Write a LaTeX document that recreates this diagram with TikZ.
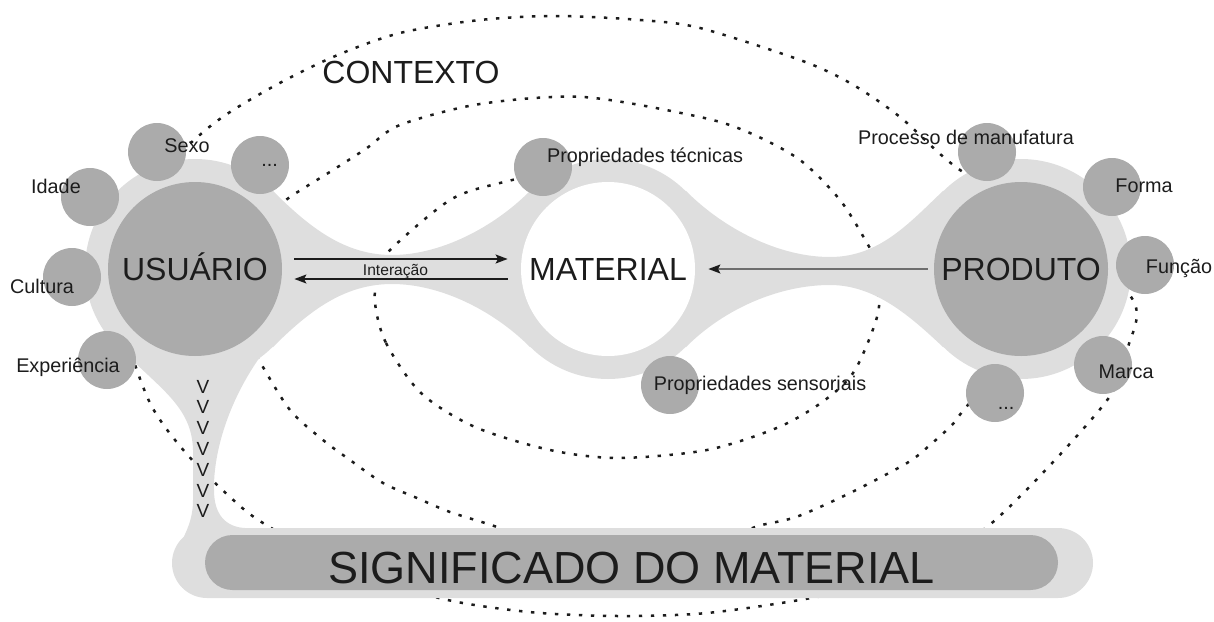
\documentclass[tikz,border=0pt]{standalone}
\usepackage{fontspec}
\setmainfont{Liberation Sans}
\usetikzlibrary{arrows.meta}
\definecolor{blobgray}{RGB}{222,222,222}
\definecolor{discgray}{RGB}{171,171,171}
\definecolor{inkgray}{RGB}{28,28,28}
\definecolor{linegray}{RGB}{110,110,110}

\begin{document}
\begin{tikzpicture}[x=0.5pt, y=-0.5pt,
    blob/.style={fill=blobgray},
    bigdisc/.style={circle, fill=discgray, minimum size=87pt, inner sep=0pt, text=inkgray, text height=11.5pt, text depth=0pt, font=\fontsize{16pt}{19pt}\selectfont},
    smalldisc/.style={circle, fill=discgray, minimum size=29pt, inner sep=0pt},
    sigbar/.style={rectangle, rounded corners=13.75pt, fill=discgray, minimum width=426.5pt, minimum height=27.5pt, inner sep=0pt, text=inkgray, text height=20.5pt, text depth=0pt, font=\fontsize{22.5pt}{26pt}\selectfont},
    lbl/.style={anchor=base, inner sep=0pt, text=inkgray, font=\fontsize{9.9pt}{12pt}\selectfont},
    vmark/.style={anchor=base, inner sep=0pt, text=inkgray, font=\fontsize{9.5pt}{10pt}\selectfont},
    ctxline/.style={draw=inkgray, line width=1.25pt, dash pattern=on 1.7pt off 4.3pt},
    arr/.style={draw=inkgray, line width=0.75pt, -{Stealth[length=6pt, width=4.5pt, inset=1.2pt]}}]
  \useasboundingbox (0,0) rectangle (1214,621);

  \draw[ctxline] plot[smooth cycle] coordinates {(556,16) (640,20) (700,28) (800,60) (850,83) (900,117) (960,170) (1060,228) (1133,300) (1128,347) (1105,403) (993,522) (900,578) (811,598) (707,613) (618,616) (529,612) (439,598) (340,565) (263,523) (230,497) (185,452) (150,403) (125,330) (118,260) (140,195) (208,128) (267,90) (333,57) (400,33) (480,20)};
  \draw[ctxline] plot[smooth cycle] coordinates {(375,303) (386,343) (421,393) (475,427) (550,450) (618,458) (707,450) (779,427) (825,400) (855,370) (878,313) (872,285) (820,265) (760,250) (690,208) (620,180) (560,172) (500,183) (450,200) (390,250) (378,272)};
  \draw[ctxline] plot[smooth] coordinates {(268,215) (290,197) (333,170) (367,148) (400,125) (480,104) (583,97) (700,117) (750,133) (800,160) (840,200) (867,243) (878,265)};
  \draw[ctxline] plot[smooth] coordinates {(245,335) (260,362) (290,410) (323,440) (350,460) (383,483) (417,498) (450,512) (497,527) (540,545)};
  \draw[ctxline] plot[smooth] coordinates {(720,545) (755,527) (796,517) (850,493) (907,463) (930,445) (952,425) (962,412) (985,385)};

  \fill[blob] (195,269) circle[radius=55pt] (608,269) circle[radius=55pt] (1021,269) circle[radius=55pt];
  \fill[blob] (273,191) .. controls (310,228) and (345,255) .. (392,255) .. controls (440,255) and (493,228) .. (530,191) -- (530,347) .. controls (493,310) and (440,284) .. (392,284) .. controls (345,284) and (310,310) .. (273,347) -- cycle;
  \fill[blob] (686,191) .. controls (725,230) and (780,257) .. (830,257) .. controls (880,257) and (910,222) .. (943,191) -- (943,347) .. controls (910,316) and (875,285) .. (830,285) .. controls (780,285) and (725,308) .. (686,347) -- cycle;
  \fill[blob] (130,358) .. controls (165,392) and (192,410) .. (193,450) -- (193,500) .. controls (193,520) and (186,532) .. (180,545) -- (245,545) -- (245,528) .. controls (226,527) and (214,515) .. (214,490) .. controls (213,440) and (240,370) .. (290,322) -- (195,269) -- cycle;
  \fill[blob, rounded corners=17.5pt] (172,528) rectangle (1093,598);

  \node[bigdisc] (usuario) at (195,269) {USUÁRIO};
  \node[bigdisc, fill=white] (material) at (608,269) {MATERIAL};
  \node[bigdisc] (produto) at (1021,269) {PRODUTO};

  \node[smalldisc] (sexo) at (157,152) {};
  \node[smalldisc] (usrmore) at (260,165) {};
  \node[smalldisc] (idade) at (90,197) {};
  \node[smalldisc] (cultura) at (72,277) {};
  \node[smalldisc] (experiencia) at (107,360) {};
  \node[smalldisc] (tecnicas) at (543,167) {};
  \node[smalldisc] (sensoriais) at (670,385) {};
  \node[smalldisc] (processo) at (987,152) {};
  \node[smalldisc] (forma) at (1112,187) {};
  \node[smalldisc] (funcao) at (1145,265) {};
  \node[smalldisc] (marca) at (1103,365) {};
  \node[smalldisc] (prdmore) at (995,393) {};

  \node[sigbar] (significado) at (631.5,562.5) {SIGNIFICADO DO MATERIAL};

  \draw[arr] ([xshift=6pt, yshift=5pt]usuario.east) -- ([xshift=-6.5pt, yshift=5pt]material.west);
  \draw[arr] ([xshift=-6.5pt, yshift=-5pt]material.west) -- ([xshift=6pt, yshift=-5pt]usuario.east);
  \draw[arr, draw=linegray, -{Stealth[length=6pt, width=4.5pt, inset=1.2pt, color=inkgray]}] ([xshift=-3pt]produto.west) -- ([xshift=6.5pt]material.east);

  \node[lbl, font=\fontsize{7.8pt}{9pt}\selectfont] (interacao) at (395.5,275) {Interação};
  \node[lbl, font=\fontsize{16pt}{19pt}\selectfont] (contexto) at (411,83) {CONTEXTO};
  \node[lbl] (sexolbl) at (187,152) {Sexo};
  \node[lbl] (usrmorelbl) at (269.5,166) {...};
  \node[lbl] (idadelbl) at (56,193) {Idade};
  \node[lbl] (culturalbl) at (42,293) {Cultura};
  \node[lbl] (experiencialbl) at (68,372) {Experiência};
  \node[lbl] (tecnicaslbl) at (645,162) {Propriedades técnicas};
  \node[lbl] (sensoriaislbl) at (760,390) {Propriedades sensoriais};
  \node[lbl] (processolbl) at (966,144) {Processo de manufatura};
  \node[lbl] (formalbl) at (1144,192) {Forma};
  \node[lbl] (funcaolbl) at (1179,273) {Função};
  \node[lbl] (marcalbl) at (1126,378) {Marca};
  \node[lbl] (prdmorelbl) at (1006,409) {...};

  \foreach \k in {0,...,6}
    \node[vmark] (v\k) at (203,{393+20.8*\k}) {V};
\end{tikzpicture}
\end{document}
